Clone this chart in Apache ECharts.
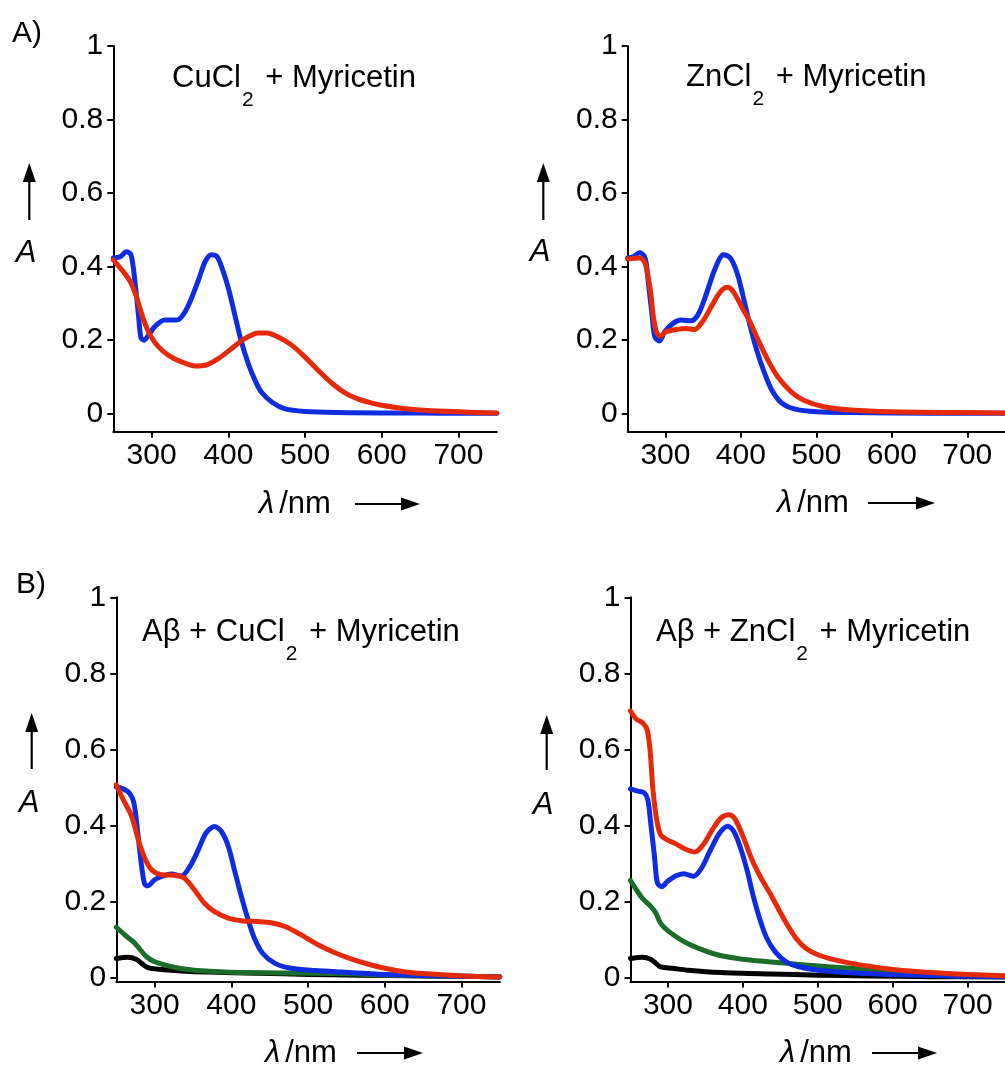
<!DOCTYPE html>
<html lang="en">
<head>
<meta charset="UTF-8">
<title>Myricetin UV-Vis</title>
<style>
  html, body { margin: 0; padding: 0; background: #fff; }
  #chartmain { width: 1005px; height: 1065px; }
</style>
</head>
<body>
<div id="chartmain"></div>
<script src="https://cdn.jsdelivr.net/npm/echarts@6/dist/echarts.min.js"></script>
<script>
// spectra: [wavelength / nm, absorbance]
var cuBlue = [[250,0.423],[259,0.426],[267,0.44],[273,0.432],[278,0.363],[283,0.263],[286,0.206],[290,0.199],[296,0.213],[304,0.236],[317,0.254],[333,0.254],[341,0.268],[350,0.304],[361,0.363],[370,0.414],[378,0.432],[385,0.427],[391,0.40],[400,0.341],[409,0.263],[417,0.195],[426,0.135],[435,0.089],[443,0.058],[457,0.030],[474,0.012],[500,0.005],[543,0.002],[600,0.001],[650,0.001],[700,0],[750,0]];
var cuRed = [[250,0.418],[261,0.391],[272,0.359],[280,0.318],[289,0.258],[298,0.213],[309,0.181],[322,0.158],[339,0.140],[357,0.129],[370,0.131],[387,0.149],[404,0.176],[422,0.204],[439,0.219],[450,0.219],[465,0.208],[483,0.185],[500,0.153],[517,0.117],[535,0.082],[552,0.056],[568,0.040],[585,0.029],[600,0.022],[625,0.014],[650,0.009],[700,0.004],[750,0.001]];

var znBlue = [[250,0.423],[258,0.427],[266,0.438],[273,0.423],[277,0.363],[282,0.272],[286,0.208],[292,0.197],[299,0.222],[310,0.245],[321,0.254],[334,0.252],[343,0.268],[353,0.318],[366,0.395],[377,0.432],[386,0.423],[395,0.382],[403,0.318],[412,0.240],[421,0.172],[430,0.117],[440,0.067],[453,0.030],[471,0.012],[501,0.004],[545,0.002],[600,0.001],[700,0],[750,0]];
var znRed = [[250,0.420],[266,0.423],[273,0.409],[280,0.336],[284,0.263],[288,0.222],[293,0.210],[301,0.222],[314,0.228],[327,0.231],[338,0.228],[349,0.249],[362,0.295],[373,0.331],[382,0.343],[390,0.331],[401,0.290],[412,0.249],[423,0.199],[436,0.144],[449,0.099],[467,0.058],[484,0.035],[510,0.018],[545,0.009],[600,0.004],[700,0.002],[750,0.001]];

var abCuBlue = [[250,0.501],[259,0.496],[267,0.485],[273,0.459],[278,0.380],[283,0.292],[287,0.246],[291,0.241],[300,0.257],[311,0.267],[322,0.272],[335,0.267],[346,0.292],[357,0.336],[367,0.380],[378,0.397],[387,0.384],[396,0.345],[404,0.283],[413,0.213],[422,0.151],[430,0.103],[441,0.063],[457,0.037],[478,0.024],[509,0.018],[543,0.014],[600,0.008],[700,0.003],[750,0.001]];
var abCuRed = [[250,0.507],[259,0.468],[270,0.424],[278,0.367],[287,0.314],[296,0.283],[309,0.270],[326,0.269],[339,0.261],[352,0.230],[365,0.195],[378,0.173],[396,0.156],[413,0.149],[435,0.147],[452,0.144],[470,0.134],[491,0.112],[513,0.086],[535,0.065],[557,0.048],[580,0.034],[600,0.024],[625,0.015],[650,0.010],[700,0.004],[750,0.001]];
var abCuGreen = [[250,0.132],[261,0.112],[272,0.094],[280,0.076],[289,0.055],[300,0.041],[313,0.033],[330,0.025],[352,0.019],[383,0.015],[435,0.012],[500,0.011],[565,0.009],[600,0.006],[700,0.003],[750,0.002]];
var abCuBlack = [[250,0.050],[265,0.053],[276,0.048],[283,0.037],[291,0.026],[309,0.021],[335,0.017],[370,0.014],[435,0.011],[500,0.008],[565,0.006],[650,0.004],[750,0.002]];

var abZnBlue = [[250,0.496],[260,0.490],[268,0.486],[273,0.468],[277,0.406],[282,0.318],[286,0.248],[292,0.239],[299,0.252],[310,0.267],[321,0.273],[334,0.266],[345,0.288],[356,0.332],[369,0.380],[380,0.398],[388,0.384],[397,0.340],[406,0.279],[414,0.213],[423,0.151],[432,0.103],[443,0.068],[458,0.041],[475,0.028],[501,0.019],[545,0.012],[567,0.010],[600,0.007],[700,0.003],[750,0.002]];
var abZnRed = [[250,0.701],[258,0.679],[266,0.670],[272,0.653],[276,0.600],[280,0.494],[285,0.415],[290,0.376],[299,0.362],[310,0.352],[323,0.338],[336,0.330],[347,0.349],[360,0.391],[371,0.420],[382,0.428],[390,0.415],[401,0.367],[412,0.310],[423,0.266],[436,0.222],[447,0.182],[458,0.143],[471,0.103],[484,0.077],[501,0.059],[523,0.046],[545,0.037],[567,0.030],[600,0.021],[650,0.013],[700,0.008],[750,0.004]];
var abZnGreen = [[250,0.255],[258,0.230],[266,0.208],[277,0.187],[284,0.169],[290,0.143],[301,0.121],[319,0.097],[340,0.077],[367,0.059],[393,0.050],[423,0.043],[458,0.037],[501,0.030],[545,0.024],[567,0.020],[600,0.015],[650,0.010],[700,0.006],[750,0.004]];
var abZnBlack = [[250,0.050],[266,0.053],[277,0.048],[284,0.037],[290,0.028],[306,0.024],[327,0.019],[371,0.013],[436,0.009],[501,0.006],[567,0.004],[650,0.002],[750,0.001]];

var xTicks = [300, 400, 500, 600, 700];
var yTicks = [0, 0.2, 0.4, 0.6, 0.8, 1];

var sans = 'Liberation Sans, Arial, sans-serif';
var blue = '#0f2de0', red = '#e52a0a', green = '#1a6e2a', black = '#000000';

var panels = [
    { left: 113.3, top: 46, height: 385.7, ymin: -0.05,
      title: '{m|CuCl}{s|2}{m| + Myricetin}', tx: 172, ty: 78,
      lines: [[cuBlue, blue], [cuRed, red]] },
    { left: 627.7, top: 46, height: 385.7, ymin: -0.05,
      title: '{m|ZnCl}{s|2}{m| + Myricetin}', tx: 686, ty: 77,
      lines: [[znBlue, blue], [znRed, red]] },
    { left: 116.3, top: 597.3, height: 384.3, ymin: -0.011,
      title: '{m|Aβ + CuCl}{s|2}{m| + Myricetin}', tx: 142, ty: 632,
      lines: [[abCuBlack, black], [abCuGreen, green], [abCuBlue, blue], [abCuRed, red]] },
    { left: 630.5, top: 597.3, height: 384.3, ymin: -0.011,
      title: '{m|Aβ + ZnCl}{s|2}{m| + Myricetin}', tx: 656, ty: 632,
      lines: [[abZnBlack, black], [abZnGreen, green], [abZnBlue, blue], [abZnRed, red]] }
];

var grid = [], xAxis = [], yAxis = [], series = [];
panels.forEach(function (p, i) {
    grid.push({ left: p.left, top: p.top, width: 383.5, height: p.height });
    xAxis.push({
        type: 'value', gridIndex: i, min: 250, max: 750,
        axisLine: { onZero: false, lineStyle: { color: '#000', width: 2 } },
        axisTick: { customValues: xTicks, length: 6, lineStyle: { color: '#000', width: 2 } },
        axisLabel: { customValues: xTicks, margin: 9, color: '#000', fontSize: 30, fontFamily: sans },
        splitLine: { show: false }
    });
    yAxis.push({
        type: 'value', gridIndex: i, min: p.ymin, max: 1,
        axisLine: { show: true, onZero: false, lineStyle: { color: '#000', width: 2 } },
        axisTick: { show: true, customValues: yTicks, length: 6, lineStyle: { color: '#000', width: 2 } },
        axisLabel: { customValues: yTicks, margin: 10, color: '#000', fontSize: 30, fontFamily: sans,
            formatter: function (v) { return String(v); } },
        splitLine: { show: false }
    });
    p.lines.forEach(function (ln) {
        series.push({
            type: 'line', xAxisIndex: i, yAxisIndex: i, data: ln[0],
            showSymbol: false, smooth: 0.3,
            lineStyle: { color: ln[1], width: 5, cap: 'round', join: 'round' }
        });
    });
});

// arrows and labels
function vArrow(x, yTip, yEnd) {
    return [
        { type: 'line', shape: { x1: x, y1: yEnd, x2: x, y2: yTip + 15 }, style: { stroke: '#000', lineWidth: 2.2 } },
        { type: 'polygon', shape: { points: [[x, yTip], [x - 6.5, yTip + 19], [x + 6.5, yTip + 19]] }, style: { fill: '#000' } }
    ];
}
function hArrow(x1, xTip, y) {
    return [
        { type: 'line', shape: { x1: x1, y1: y, x2: xTip - 15, y2: y }, style: { stroke: '#000', lineWidth: 2.2 } },
        { type: 'polygon', shape: { points: [[xTip, y], [xTip - 19, y - 6.5], [xTip - 19, y + 6.5]] }, style: { fill: '#000' } }
    ];
}
function txt(x, y, text, rich, align) {
    return { type: 'text', x: x, y: y, style: {
        text: text, fill: '#000', align: align || 'left', verticalAlign: 'middle', rich: rich } };
}

var titleRich = {
    m: { fontSize: 31, fontFamily: sans, fill: '#000' },
    s: { fontSize: 21, fontFamily: sans, fill: '#000', padding: [44, 3, 0, 1] }
};
var xNameRich = {
    i: { fontSize: 31, fontFamily: sans, fontStyle: 'italic', fill: '#000', padding: [0, 5, 0, 0] },
    r: { fontSize: 31, fontFamily: sans, fill: '#000' }
};
var aRich = { a: { fontSize: 31, fontFamily: sans, fontStyle: 'italic', fill: '#000' } };
var pRich = { p: { fontSize: 30, fontFamily: sans, fill: '#000' } };

var yArrows = [[29.3, 163, 220, 26, 253], [543.3, 163, 220, 540, 252], [31.7, 713, 769, 29, 803], [546.7, 715, 770, 543, 805]];
var xNames = [[259, 504, 355, 420], [777, 503, 868, 935], [265, 1053, 357, 423], [780, 1053, 872, 937]];

var graphic = [];
panels.forEach(function (p, i) {
    graphic.push(txt(p.tx, p.ty, p.title, titleRich));
    var ya = yArrows[i];
    graphic = graphic.concat(vArrow(ya[0], ya[1], ya[2]));
    graphic.push(txt(ya[3], ya[4], '{a|A}', aRich, 'center'));
    var xn = xNames[i];
    graphic.push(txt(xn[0], xn[1], '{i|λ}{r|/nm}', xNameRich));
    graphic = graphic.concat(hArrow(xn[2], xn[3], xn[1]));
});
graphic.push(txt(12, 34, '{p|A)}', pRich));
graphic.push(txt(16, 585, '{p|B)}', pRich));

var mychart = echarts.init(document.getElementById('chartmain'));
mychart.setOption({
    animation: false,
    backgroundColor: '#fff',
    grid: grid,
    xAxis: xAxis,
    yAxis: yAxis,
    series: series,
    graphic: graphic
});
</script>
</body>
</html>
